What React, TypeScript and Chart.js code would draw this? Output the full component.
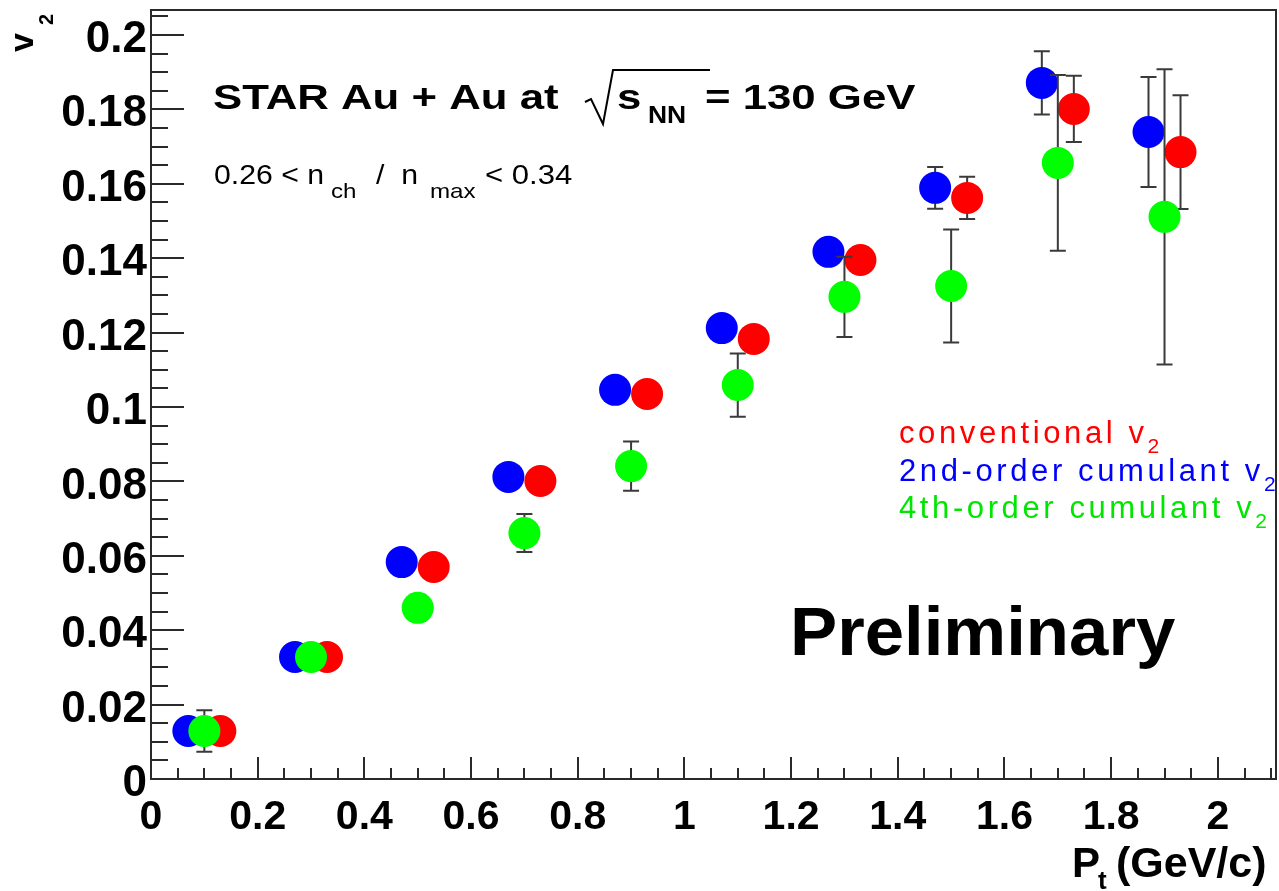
import React, { useEffect, useRef } from 'react';
import { Chart, registerables } from 'chart.js';

Chart.register(...registerables);

// ---------- data ----------
const ptConventional = [0.13, 0.33, 0.53, 0.73, 0.93, 1.13, 1.33, 1.53, 1.73, 1.93];
const v2Conventional = [0.0129, 0.0328, 0.057, 0.0801, 0.1035, 0.1183, 0.1395, 0.1562, 0.1801, 0.1685];
const errConventional = [0.0015, 0.0015, 0.002, 0.002, 0.0025, 0.003, 0.0035, 0.0057, 0.0089, 0.0153];

const ptCumulant2 = [0.07, 0.27, 0.47, 0.67, 0.87, 1.07, 1.27, 1.47, 1.67, 1.87];
const v2Cumulant2 = [0.0129, 0.0328, 0.0583, 0.0812, 0.1046, 0.1212, 0.1417, 0.1589, 0.1871, 0.1739];
const errCumulant2 = [0.0015, 0.0015, 0.002, 0.002, 0.0025, 0.003, 0.0035, 0.0056, 0.0085, 0.0148];

const ptCumulant4 = [0.1, 0.3, 0.5, 0.7, 0.9, 1.1, 1.3, 1.5, 1.7, 1.9];
const v2Cumulant4 = [0.0129, 0.0328, 0.046, 0.0661, 0.0841, 0.1059, 0.1296, 0.1325, 0.1656, 0.1511];
const errCumulant4 = [0.0056, 0.003, 0.0035, 0.0051, 0.0066, 0.0085, 0.0108, 0.0152, 0.0236, 0.0397];

const xTickValues = [0, 0.2, 0.4, 0.6, 0.8, 1, 1.2, 1.4, 1.6, 1.8, 2];
const xTickLabels = ['0', '0.2', '0.4', '0.6', '0.8', '1', '1.2', '1.4', '1.6', '1.8', '2'];
const yTickValues = [0, 0.02, 0.04, 0.06, 0.08, 0.1, 0.12, 0.14, 0.16, 0.18, 0.2];
const yTickLabels = ['0', '0.02', '0.04', '0.06', '0.08', '0.1', '0.12', '0.14', '0.16', '0.18', '0.2'];

const X_MAX = 2.109;
const Y_MAX = 0.2067;
const X_MINOR = 0.05;
const Y_MINOR = 0.005;

const FONT = '"Liberation Sans", Arial, Helvetica, sans-serif';
const AXIS_COLOR = '#2a2a2a';
const ERR_COLOR = '#3a3a3a';

function txt(
  ctx: CanvasRenderingContext2D,
  s: string,
  x: number,
  y: number,
  font: string,
  color: string,
  sx = 1,
  spacing = 0,
  rot = 0
) {
  ctx.save();
  ctx.font = font;
  ctx.fillStyle = color;
  ctx.textAlign = 'left';
  ctx.textBaseline = 'alphabetic';
  (ctx as any).letterSpacing = spacing + 'px';
  ctx.translate(x, y);
  if (rot) ctx.rotate(rot);
  ctx.scale(sx, 1);
  ctx.fillText(s, 0, 0);
  const w = ctx.measureText(s).width * sx;
  ctx.restore();
  return x + w;
}

const errorBarPlugin = {
  id: 'errorBars',
  beforeDatasetDraw(chart: any, args: any) {
    const ds = chart.data.datasets[args.index];
    const errs: number[] = ds.errors;
    if (!errs) return;
    const xs = chart.scales.x;
    const ys = chart.scales.y;
    const ctx = chart.ctx;
    ctx.save();
    ctx.strokeStyle = ERR_COLOR;
    ctx.lineWidth = 2;
    ds.data.forEach((p: any, i: number) => {
      const px = xs.getPixelForValue(p.x);
      const top = ys.getPixelForValue(p.y + errs[i]);
      const bot = ys.getPixelForValue(p.y - errs[i]);
      ctx.beginPath();
      ctx.moveTo(px, top);
      ctx.lineTo(px, bot);
      ctx.moveTo(px - 8, top);
      ctx.lineTo(px + 8, top);
      ctx.moveTo(px - 8, bot);
      ctx.lineTo(px + 8, bot);
      ctx.stroke();
    });
    ctx.restore();
  },
};

const framePlugin = {
  id: 'rootFrame',
  beforeDatasetsDraw(chart: any) {
    const { ctx, chartArea: a } = chart;
    const xs = chart.scales.x;
    const ys = chart.scales.y;
    ctx.save();
    ctx.strokeStyle = AXIS_COLOR;
    ctx.lineWidth = 2;
    ctx.strokeRect(a.left, a.top, a.right - a.left, a.bottom - a.top);
    ctx.beginPath();
    for (let k = 0; k * X_MINOR <= X_MAX + 1e-9; k++) {
      const v = k * X_MINOR;
      const px = Math.round(xs.getPixelForValue(v));
      const major = k % 4 === 0;
      ctx.moveTo(px, a.bottom);
      ctx.lineTo(px, a.bottom - (major ? 22 : 11));
    }
    for (let k = 0; k * Y_MINOR <= Y_MAX + 1e-9; k++) {
      const v = k * Y_MINOR;
      const py = Math.round(ys.getPixelForValue(v));
      const major = k % 4 === 0;
      ctx.moveTo(a.left, py);
      ctx.lineTo(a.left + (major ? 33 : 17), py);
    }
    ctx.stroke();
    ctx.restore();
  },
};

const annotationPlugin = {
  id: 'annotations',
  afterDraw(chart: any) {
    const ctx: CanvasRenderingContext2D = chart.ctx;
    const B = (s: number) => `bold ${s}px ${FONT}`;
    const R = (s: number) => `${s}px ${FONT}`;

    // header line 1
    txt(ctx, 'STAR Au + Au at', 213, 109, B(35), '#000', 1.25);
    ctx.save();
    ctx.strokeStyle = '#000';
    ctx.lineWidth = 2;
    ctx.beginPath();
    ctx.moveTo(585, 102);
    ctx.lineTo(591, 99);
    ctx.lineTo(603, 124);
    ctx.lineTo(613, 70);
    ctx.lineTo(710, 70);
    ctx.stroke();
    ctx.restore();
    txt(ctx, 's', 617, 109, B(35), '#000', 1.25);
    txt(ctx, 'NN', 648, 123, B(23), '#000', 1.15);
    txt(ctx, '= 130 GeV', 705, 109, B(35), '#000', 1.25);

    // header line 2
    txt(ctx, '0.26 < n', 214, 184, R(27), '#000', 1.12);
    txt(ctx, 'ch', 331, 198, R(21), '#000', 1.15);
    txt(ctx, '/  n', 376, 184, R(27), '#000', 1.12);
    txt(ctx, 'max', 430, 198, R(21), '#000', 1.15);
    txt(ctx, '< 0.34', 485, 184, R(27), '#000', 1.15);

    // legend text
    let e = txt(ctx, 'conventional v', 899, 443, R(31), '#ff0000', 1, 3.6);
    txt(ctx, '2', e, 453, R(21), '#ff0000', 1, 2);
    e = txt(ctx, '2nd-order cumulant v', 899, 481, R(31), '#0000ff', 1, 3.6);
    txt(ctx, '2', e, 491, R(21), '#0000ff', 1, 2);
    e = txt(ctx, '4th-order cumulant v', 899, 518, R(31), '#00e600', 1, 3.6);
    txt(ctx, '2', e, 528, R(21), '#00e600', 1, 2);

    // Preliminary
    txt(ctx, 'Preliminary', 790, 655, B(68), '#000', 1.04);

    // axis titles
    txt(ctx, 'v', 33, 52, B(34), '#000', 1, 0, -Math.PI / 2);
    txt(ctx, '2', 53, 25, B(20), '#000', 1, 0, -Math.PI / 2);
    txt(ctx, 'P', 1072, 877, B(42), '#000');
    txt(ctx, 't', 1098, 889, B(26), '#000');
    txt(ctx, '(GeV/c)', 1116, 877, B(43), '#000');
  },
};

export default function App() {
  const ref = useRef<HTMLCanvasElement>(null);

  useEffect(() => {
    if (!ref.current) return;
    const mk = (xs: number[], ys: number[]) => xs.map((x, i) => ({ x, y: ys[i] }));
    const chart = new Chart(ref.current, {
      type: 'scatter',
      data: {
        datasets: [
          {
            label: 'conventional v2',
            data: mk(ptConventional, v2Conventional),
            errors: errConventional,
            backgroundColor: '#ff0000',
            borderWidth: 0,
            pointRadius: 16,
            order: 3,
          } as any,
          {
            label: '2nd-order cumulant v2',
            data: mk(ptCumulant2, v2Cumulant2),
            errors: errCumulant2,
            backgroundColor: '#0000ff',
            borderWidth: 0,
            pointRadius: 16,
            order: 2,
          } as any,
          {
            label: '4th-order cumulant v2',
            data: mk(ptCumulant4, v2Cumulant4),
            errors: errCumulant4,
            backgroundColor: '#00ff00',
            borderWidth: 0,
            pointRadius: 16,
            order: 1,
          } as any,
        ],
      },
      options: {
        animation: false,
        responsive: false,
        devicePixelRatio: 1,
        layout: { autoPadding: false, padding: { left: 0, top: 10, right: 3, bottom: 0 } },
        plugins: { legend: { display: false }, tooltip: { enabled: false } },
        scales: {
          x: {
            type: 'linear',
            min: 0,
            max: X_MAX,
            grid: { display: false, drawTicks: false, tickLength: 0 },
            border: { display: false },
            afterBuildTicks: (s: any) => {
              s.ticks = xTickValues.map((v) => ({ value: v }));
            },
            afterFit: (s: any) => {
              s.height = 112;
              s.paddingLeft = 0;
              s.paddingRight = 0;
            },
            ticks: {
              callback: (_v: any, i: number) => xTickLabels[i],
              font: { family: FONT, size: 41, weight: 'bold' },
              color: '#000',
              padding: 14,
              maxRotation: 0,
              autoSkip: false,
            },
          },
          y: {
            type: 'linear',
            min: 0,
            max: Y_MAX,
            grid: { display: false, drawTicks: false, tickLength: 0 },
            border: { display: false },
            afterBuildTicks: (s: any) => {
              s.ticks = yTickValues.map((v) => ({ value: v }));
            },
            afterFit: (s: any) => {
              s.width = 151;
              s.paddingTop = 0;
              s.paddingBottom = 0;
            },
            ticks: {
              callback: (_v: any, i: number) => yTickLabels[i],
              font: { family: FONT, size: 44, weight: 'bold' },
              color: '#000',
              padding: 4,
              labelOffset: 5,
              autoSkip: false,
            },
          },
        },
      } as any,
      plugins: [errorBarPlugin, framePlugin, annotationPlugin],
    });
    return () => chart.destroy();
  }, []);

  return (
    <div style={{ position: 'fixed', left: 0, top: 0, width: 1279, height: 891, background: '#fff' }}>
      <canvas ref={ref} width={1279} height={891} style={{ display: 'block' }} />
    </div>
  );
}
